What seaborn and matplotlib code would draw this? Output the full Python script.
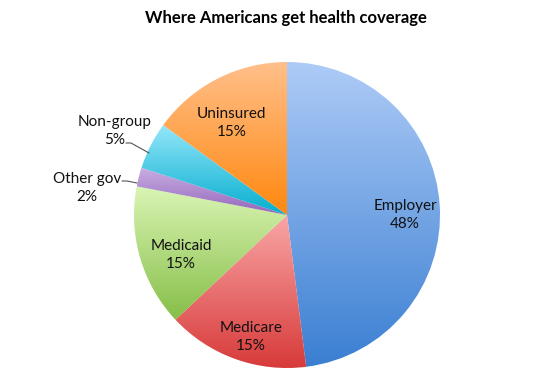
import matplotlib
matplotlib.use("Agg")
import matplotlib.pyplot as plt
import matplotlib.colors as mcolors
import numpy as np
import seaborn as sns

categories = ["Employer", "Medicare", "Medicaid", "Other gov", "Non-group", "Uninsured"]
values = [48, 15, 15, 2, 5, 15]
top_colors = ["#aecbf7", "#f9a6a6", "#daf5b4", "#c9aee3", "#94e6fa", "#ffbf8a"]
bottom_colors = ["#3a7fd2", "#d83a3a", "#86be48", "#9466bb", "#04aecf", "#ff880f"]

sns.set_theme(style="white")
plt.rcParams['font.family'] = ['Lato', 'DejaVu Sans']

W, H = 541, 388
fig = plt.figure(figsize=(W / 100, H / 100), dpi=100)
ax = fig.add_axes([0, 0, 1, 1])

cx, cy, r = 287, H - 215, 153
wedges, _ = ax.pie(values, startangle=90, counterclock=False, center=(cx, cy),
                   radius=r, frame=True,
                   wedgeprops=dict(linewidth=0))
ax.set_xlim(0, W)
ax.set_ylim(0, H)
ax.set_aspect("auto")
ax.axis("off")

for w, c1, c2 in zip(wedges, top_colors, bottom_colors):
    bb = w.get_path().get_extents(w.get_transform())
    inv = ax.transData.inverted()
    (x0, y0), (x1, y1) = inv.transform([[bb.x0, bb.y0], [bb.x1, bb.y1]])
    cmap = mcolors.LinearSegmentedColormap.from_list("g", [c2, c1])
    grad = np.linspace(0, 1, 256).reshape(-1, 1)
    im = ax.imshow(grad, cmap=cmap, extent=[x0, x1, y0, y1], origin="lower",
                   aspect="auto", zorder=1, interpolation="bilinear")
    im.set_clip_path(w)
    w.set_facecolor("none")

ax.set_xlim(0, W)
ax.set_ylim(0, H)

fs = 11
def lab(x, y, s):
    ax.text(x, H - y, s, ha="center", va="center", fontsize=fs, color="#111111",
            linespacing=1.45, zorder=5)

lab(405, 215, "Employer\n48%")
lab(251, 337, "Medicare\n15%")
lab(181, 255, "Medicaid\n15%")
lab(232, 123, "Uninsured\n15%")
lab(115, 131, "Non-group\n5%")
lab(87, 188, "Other gov\n2%")

ax.plot([126, 131, 149], [H - 143, H - 143, H - 153], color="#555555", lw=0.8, zorder=5)
ax.plot([122, 127, 137], [H - 181, H - 181, H - 183], color="#555555", lw=0.8, zorder=5)

ax.text(286, H - 18, "Where Americans get health coverage", ha="center", va="center",
        fontsize=12, fontweight="bold", color="black")

fig.savefig("out.png", dpi=100)
